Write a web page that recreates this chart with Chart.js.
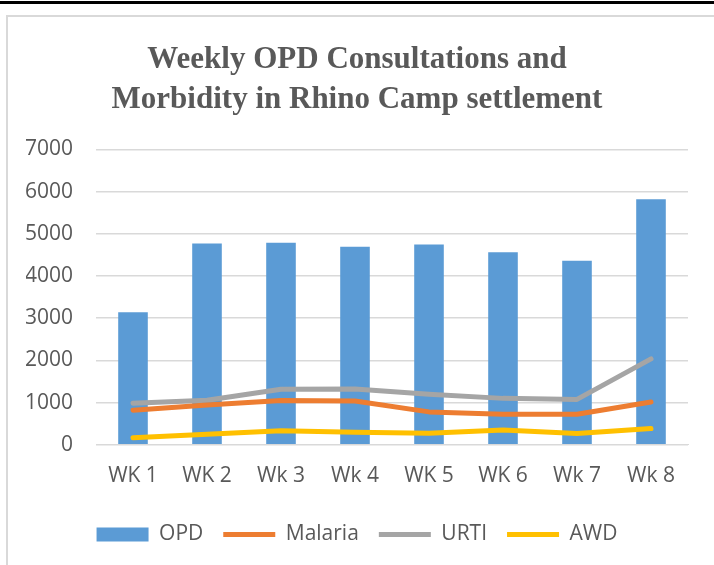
<!DOCTYPE html>
<html>
<head>
<meta charset="utf-8">
<script src="https://cdn.jsdelivr.net/npm/chart.js@4"></script>
<style>
  html, body { margin: 0; padding: 0; background: #fff; }
  body { width: 714px; height: 565px; position: relative; overflow: hidden; }
  .topbar { position: absolute; left: 0; top: 1px; width: 714px; height: 3px; background: #000; }
  .frame { position: absolute; left: 6px; top: 15px; width: 720px; height: 560px;
           border-left: 2px solid #d9d9d9; border-top: 2px solid #d9d9d9; }
  .wrap { position: absolute; left: 0; top: 0; width: 714px; height: 565px; }
</style>
</head>
<body>
<div class="topbar"></div>
<div class="frame"></div>
<div class="wrap"><canvas id="chart" width="714" height="565"></canvas></div>
<script>
const weeks = ['WK 1', 'WK 2', 'Wk 3', 'Wk 4', 'WK 5', 'WK 6', 'Wk 7', 'Wk 8'];
const opd = [3140, 4770, 4785, 4690, 4745, 4565, 4360, 5815];
const malaria = [820, 945, 1050, 1040, 780, 725, 725, 1015];
const urti = [985, 1055, 1315, 1320, 1195, 1100, 1075, 2035];
const awd = [165, 250, 330, 295, 275, 350, 265, 385];
const titleLines = ['Weekly OPD Consultations and', 'Morbidity in Rhino Camp settlement'];

const textColor = '#595959';
const sans = "'Open Sans', sans-serif";

function lineSet(label, data, color) {
  return {
    type: 'line',
    label,
    data,
    borderColor: color,
    backgroundColor: color,
    borderWidth: 5,
    borderCapStyle: 'round',
    borderJoinStyle: 'round',
    pointRadius: 0,
    pointStyle: 'line',
    tension: 0,
    order: 0,
  };
}

new Chart(document.getElementById('chart'), {
  type: 'bar',
  data: {
    labels: weeks,
    datasets: [
      {
        label: 'OPD',
        data: opd,
        backgroundColor: '#5b9bd5',
        pointStyle: 'rect',
        categoryPercentage: 1,
        barPercentage: 0.4,
        order: 1,
      },
      lineSet('Malaria', malaria, '#ed7d31'),
      lineSet('URTI', urti, '#a5a5a5'),
      lineSet('AWD', awd, '#ffc000'),
    ],
  },
  options: {
    responsive: false,
    animation: false,
    layout: { padding: { top: 38, left: 26, right: 26, bottom: 10 } },
    scales: {
      x: {
        grid: { display: false },
        border: { color: '#d9d9d9', width: 1 },
        ticks: { color: textColor, font: { family: sans, size: 21 }, padding: 11 },
        afterFit: (scale) => { scale.height += 4; },
      },
      y: {
        min: 0,
        max: 7000,
        ticks: {
          stepSize: 1000,
          color: textColor,
          font: { family: sans, size: 21 },
          padding: 23,
          callback: (v) => String(v),
        },
        grid: { color: '#d9d9d9', lineWidth: 1.5, drawTicks: false },
        border: { display: false },
        afterFit: (scale) => { scale.width = 70; },
      },
    },
    plugins: {
      title: {
        display: true,
        text: titleLines,
        color: textColor,
        font: { family: "'Liberation Serif', serif", size: 31, weight: 'bold', lineHeight: 1.28 },
        padding: { top: 2, bottom: 30 },
      },
      legend: {
        position: 'bottom',
        labels: {
          color: textColor,
          font: { family: sans, size: 21 },
          usePointStyle: true,
          pointStyleWidth: 52,
          boxHeight: 14,
          padding: 20,
          sort: (a, b) => a.datasetIndex - b.datasetIndex,
        },
      },
      tooltip: { enabled: false },
    },
  },
});
</script>
</body>
</html>
